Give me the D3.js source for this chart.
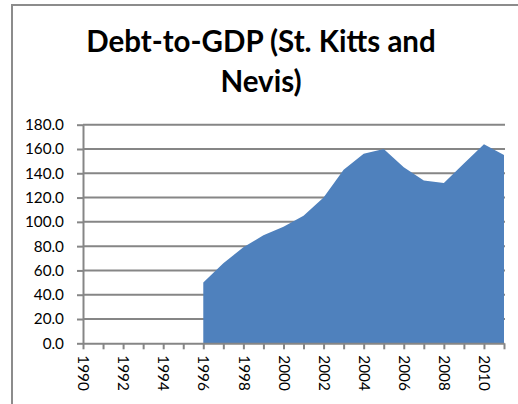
<!DOCTYPE html>
<html>
<head>
<meta charset="utf-8">
<script src="https://cdn.jsdelivr.net/npm/d3@7"></script>
<style>
  body { margin: 0; background: #fff; }
  svg { display: block; }
</style>
</head>
<body>
<svg></svg>
<script>
// debt-to-gdp, values (no data before 1996)
const years = d3.range(1990, 2012)
const debt = [null, null, null, null, null, null,
  50, 66, 79, 89, 96, 105, 120, 143, 156, 160,
  145, 134, 132, 148, 164, 155]
const yTicks = [0, 20, 40, 60, 80, 100, 120, 140, 160, 180]
const titleLines = ['Debt-to-GDP (St. Kitts and', 'Nevis)']

const width = 518
const height = 404
const grey = '#868686'
const font = 'Lato, Carlito, Calibri, sans-serif'

const svg = d3.select('svg').attr('width', width).attr('height', height)

// chart border (only top and left show in the crop)
svg.append('rect')
  .attr('x', 12).attr('y', 5)
  .attr('width', 540).attr('height', 430)
  .attr('fill', 'none')
  .attr('stroke', '#8c8c8c')
  .attr('stroke-width', 2)

svg.append('text')
  .attr('x', 261).attr('y', 52)
  .attr('text-anchor', 'middle')
  .style('font-family', font)
  .style('font-weight', 'bold')
  .style('font-size', '29.5px')
  .selectAll('tspan')
  .data(titleLines)
  .enter().append('tspan')
  .attr('x', 261)
  .attr('dy', (d, i) => i ? 40 : 0)
  .text(d => d)

const x = d3.scalePoint().domain(years).range([83, 504])
const y = d3.scaleLinear().domain([0, 180]).range([343.3, 124.7])

// gridlines
svg.append('g')
  .selectAll('line')
  .data(yTicks.slice(1))
  .enter().append('line')
  .attr('x1', 83).attr('x2', 505)
  .attr('y1', d => y(d)).attr('y2', d => y(d))
  .attr('stroke', grey)
  .attr('stroke-width', 2)

const area = d3.area()
  .defined(d => d.v != null)
  .x(d => x(d.year))
  .y0(y(0))
  .y1(d => y(d.v))

svg.append('path')
  .datum(years.map((yr, i) => ({ year: yr, v: debt[i] })))
  .attr('fill', '#4f81bd')
  .attr('d', area)

// y axis
const yAxis = svg.append('g')
  .attr('transform', 'translate(83,0)')
  .call(d3.axisLeft(y).tickValues(yTicks).tickSize(6).tickSizeOuter(0).tickFormat(d3.format('.1f')))
yAxis.select('.domain').attr('stroke', grey).attr('stroke-width', 2)
yAxis.selectAll('.tick line').attr('stroke', grey).attr('stroke-width', 2)
yAxis.selectAll('.tick text')
  .attr('x', -19)
  .style('font-family', font)
  .style('font-size', '15.3px')
  .attr('fill', '#000')

// x axis
const xAxis = svg.append('g')
  .attr('transform', `translate(0,${y(0)})`)
  .call(d3.axisBottom(x).tickSize(6).tickSizeOuter(0)
    .tickFormat(d => d % 2 === 0 ? d : ''))
xAxis.select('.domain').attr('stroke', grey).attr('stroke-width', 2)
xAxis.selectAll('.tick line').attr('stroke', grey).attr('stroke-width', 2)
xAxis.selectAll('.tick text')
  .attr('transform', 'rotate(90)')
  .attr('x', 12).attr('y', 0).attr('dy', '0.35em')
  .attr('text-anchor', 'start')
  .style('font-family', font)
  .style('font-size', '15.3px')
  .attr('fill', '#000')
</script>
</body>
</html>
